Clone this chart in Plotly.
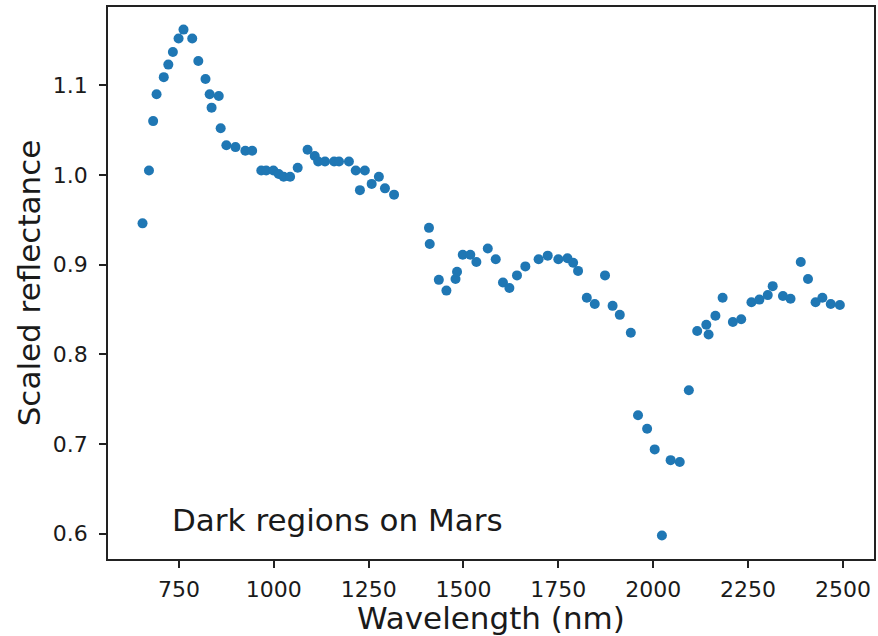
import plotly.graph_objects as go

wavelength = [654, 671, 682, 691, 710, 722, 734, 749, 762, 785, 801, 820, 831, 836, 855,
              860, 875, 899, 925, 943, 967, 980, 999, 1013, 1026, 1043, 1063, 1089, 1108,
              1117, 1135, 1159, 1172, 1198, 1216, 1227, 1240, 1258, 1277, 1293, 1317, 1409,
              1411, 1435, 1455, 1479, 1483, 1498, 1518, 1534, 1564, 1585, 1604, 1621, 1641,
              1663, 1698, 1722, 1750, 1774, 1789, 1802, 1825, 1846, 1873, 1893, 1912, 1941,
              1960, 1984, 2004, 2023, 2046, 2070, 2094, 2116, 2140, 2146, 2164, 2183, 2210,
              2232, 2259, 2280, 2302, 2315, 2342, 2362, 2389, 2408, 2428, 2446, 2468, 2492]
reflectance = [0.946, 1.005, 1.060, 1.090, 1.109, 1.123, 1.137, 1.152, 1.162, 1.152, 1.127,
               1.107, 1.090, 1.075, 1.088, 1.052, 1.033, 1.031, 1.027, 1.027, 1.005, 1.005,
               1.005, 1.001, 0.998, 0.998, 1.008, 1.028, 1.021, 1.015, 1.015, 1.015, 1.015,
               1.015, 1.005, 0.983, 1.005, 0.990, 0.998, 0.985, 0.978, 0.941, 0.923, 0.883,
               0.871, 0.884, 0.892, 0.911, 0.911, 0.903, 0.918, 0.906, 0.880, 0.874, 0.888,
               0.898, 0.906, 0.910, 0.906, 0.907, 0.902, 0.893, 0.863, 0.856, 0.888, 0.854,
               0.844, 0.824, 0.732, 0.717, 0.694, 0.598, 0.682, 0.680, 0.760, 0.826, 0.833,
               0.822, 0.843, 0.863, 0.836, 0.839, 0.858, 0.861, 0.866, 0.876, 0.865, 0.862,
               0.903, 0.884, 0.858, 0.863, 0.856, 0.855]

x_ticks = [750, 1000, 1250, 1500, 1750, 2000, 2250, 2500]
y_ticks = [0.6, 0.7, 0.8, 0.9, 1.0, 1.1]
y_tick_labels = ["0.6", "0.7", "0.8", "0.9", "1.0", "1.1"]

FONT = "DejaVu Sans"
TXT = "#1a1a1a"

fig = go.Figure(go.Scatter(
    x=wavelength, y=reflectance, mode="markers",
    marker=dict(color="#1f77b4", size=10, line=dict(width=0)),
    showlegend=False,
))

fig.add_annotation(x=726, y=0.615, xref="x", yref="y", text="Dark regions on Mars",
                   showarrow=False, xanchor="left", yanchor="middle",
                   font=dict(family=FONT, size=31, color=TXT))

axis_common = dict(showline=True, linecolor="#222222", linewidth=1.5, mirror=True,
                   ticks="outside", ticklen=7, tickwidth=1.5, tickcolor="#222222",
                   showgrid=False, zeroline=False,
                   tickfont=dict(family=FONT, size=22, color=TXT))

fig.update_xaxes(range=[563, 2582], tickvals=x_ticks, ticklabelstandoff=3,
                 title=dict(text="Wavelength (nm)", font=dict(family=FONT, size=31, color=TXT),
                            standoff=2),
                 **axis_common)
fig.update_yaxes(range=[0.5718, 1.1872], tickvals=y_ticks, ticktext=y_tick_labels,
                 ticklabelstandoff=7,
                 title=dict(text="Scaled reflectance", font=dict(family=FONT, size=31, color=TXT),
                            standoff=3),
                 **axis_common)

fig.update_layout(width=878, height=636, margin=dict(l=108, r=2, t=7, b=77),
                  plot_bgcolor="white", paper_bgcolor="white",
                  font=dict(family=FONT, color=TXT))

fig.write_html("out.html")
